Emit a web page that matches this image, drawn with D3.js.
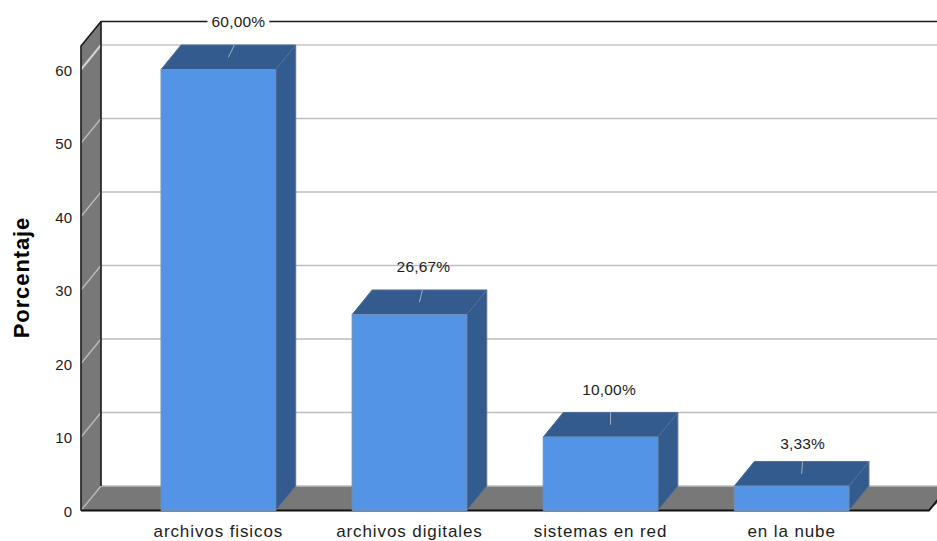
<!DOCTYPE html>
<html><head><meta charset="utf-8">
<script src="https://cdn.jsdelivr.net/npm/d3@7/dist/d3.min.js"></script>
<style>html,body{margin:0;padding:0;background:#fff}svg{display:block}
text{font-family:"Liberation Sans",Arial,sans-serif;fill:#1c1c1c}</style></head><body>
<svg id="c" width="937" height="541"></svg>
<script>
const categories = ["archivos fisicos","archivos digitales","sistemas en red","en la nube"];
const values = [60, 26.67, 10, 3.33];
const valueLabels = ["60,00%","26,67%","10,00%","3,33%"];
const yTicks = [0,10,20,30,40,50,60];
const yTitle = "Porcentaje";

const W=937,H=541;
const svg=d3.select("#c");
const x=d3.scaleBand().domain(categories).range([81,929]).paddingInner(0.4).paddingOuter(0.419);
const y=d3.scaleLinear().domain([0,60]).range([510.5,69.5]);
const dx=20,dy=-24.5;
const topVal=y.invert(46);
const line=d3.line();
const poly=(pts,fill,stroke)=>svg.append("path").attr("d",line(pts)+"Z").attr("fill",fill).attr("stroke",stroke||"none").attr("stroke-width",1);

// left wall and floor
poly([[81,y(topVal)],[81+dx,y(topVal)+dy],[81+dx,y(0)+dy],[81,y(0)]],"#787878");
poly([[81,y(0)],[81+dx,y(0)+dy],[W+20,y(0)+dy],[929,y(0)]],"#787878");

// gridlines
svg.append("g").selectAll("path").data(yTicks).join("path")
  .attr("d",d=>line([[81,y(d)],[81+dx,y(d)+dy],[W,y(d)+dy]]))
  .attr("fill","none").attr("stroke",d=>d===60?"#d4d4d4":"#bdbdbd").attr("stroke-width",d=>d===60?2:1.3);
svg.append("path").attr("d",line([[81,y(0)],[81+dx,y(0)+dy]])).attr("stroke","#b5b5b5").attr("fill","none");

// frame
const frame=[[81,y(0)],[81,y(topVal)],[81+dx,y(topVal)+dy],[W,y(topVal)+dy]];
svg.append("path").attr("d",line(frame)).attr("fill","none").attr("stroke","#1a1a1a").attr("stroke-width",1.6);
svg.append("path").attr("d",line([[81+dx,y(topVal)+dy],[81+dx,y(0)+dy]])).attr("fill","none").attr("stroke","#1a1a1a").attr("stroke-width",1.6);
svg.append("path").attr("d",line([[81,y(0)],[929,y(0)],[W+20,y(0)+dy*((W+20-929)/dx)]])).attr("fill","none").attr("stroke","#111").attr("stroke-width",1.8);

// bars
const bw=x.bandwidth();
const leaderLean=[6,3,0,1];
const labelShiftX=[20,14,8.5,11];
const labelGap=[23,23,23,18];
categories.forEach((c,i)=>{
  const l=x(c),r=l+bw,t=y(values[i]),b=y(0);
  poly([[r,t],[r+dx,t+dy],[r+dx,b+dy],[r,b]],"#345b8e","#5b7290");
  poly([[l,t],[l+dx,t+dy],[r+dx,t+dy],[r,t]],"#345b8e","#4f6f99");
  poly([[l,t],[r,t],[r,b],[l,b]],"#5394e6","#6f8fb8");
  const cx=l+bw/2;
  svg.append("path").attr("d",line([[cx+dx/2,t+dy/2],[cx+dx/2+leaderLean[i],t+dy]]))
    .attr("stroke","#9fb0c6").attr("stroke-width",1).attr("fill","none");
  const lx=cx+labelShiftX[i], ly=t+dy-labelGap[i];
  const txt=svg.append("text").attr("x",lx).attr("y",ly+5).attr("text-anchor","middle")
    .attr("font-size",15.5).attr("letter-spacing",0.2).text(valueLabels[i]);
  if(i===0){
    const b0=txt.node().getBBox();
    svg.insert("rect","text").attr("x",b0.x-4).attr("y",b0.y).attr("width",b0.width+8).attr("height",b0.height).attr("fill","#fff");
  }
});

// axes labels
svg.append("g").selectAll("text").data(yTicks).join("text")
  .attr("x",72).attr("y",d=>y(d)+6).attr("text-anchor","end").attr("font-size",15).text(d=>d);
svg.append("g").selectAll("text").data(categories).join("text")
  .attr("x",d=>x(d)+bw/2).attr("y",536.5).attr("text-anchor","middle").attr("font-size",17).attr("letter-spacing",0.9).text(d=>d);
svg.append("text").attr("transform","translate(29,277.5) rotate(-90)").attr("text-anchor","middle")
  .attr("font-size",22).attr("font-weight","bold").attr("letter-spacing",0.9).style("fill","#000").text(yTitle);
</script></body></html>
